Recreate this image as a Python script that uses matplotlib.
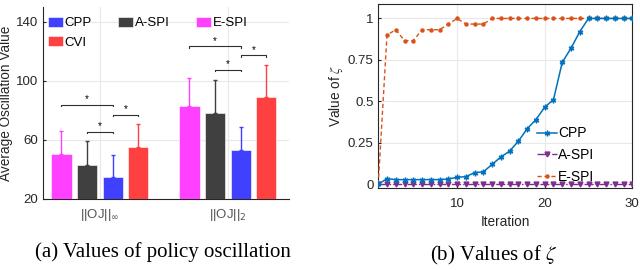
import matplotlib
matplotlib.use("Agg")
import matplotlib.pyplot as plt
import numpy as np

plt.rcParams["font.family"] = ["Liberation Sans", "DejaVu Sans"]
plt.rcParams["mathtext.fontset"] = "dejavusans"

# ---- panel (a): policy oscillation ----
groups = [r"||OJ||$_\infty$", r"||OJ||$_2$"]
methods = ["E-SPI", "A-SPI", "CPP", "CVI"]
colors = ["#ff40ff", "#404040", "#4040ff", "#ff4040"]
means = {
    "E-SPI": [50.7, 83.3],
    "A-SPI": [43.0, 78.5],
    "CPP": [34.9, 53.0],
    "CVI": [55.0, 89.1],
}
err = {
    "E-SPI": [15.1, 18.7],
    "A-SPI": [16.5, 22.4],
    "CPP": [14.9, 15.5],
    "CVI": [16.0, 21.5],
}
# (group, bar_from, bar_to, height)
brackets = [
    (0, 0, 2, 83.7), (0, 1, 2, 65.4), (0, 2, 3, 77.0),
    (1, 0, 2, 123.5), (1, 1, 2, 107.5), (1, 2, 3, 117.4),
]
legend_order = ["CPP", "CVI", "A-SPI", "E-SPI"]

# ---- panel (b): zeta ----
iters = np.arange(1, 31)
cpp = [0, 0.034, 0.028, 0.028, 0.028, 0.028, 0.028, 0.028, 0.032, 0.042,
       0.046, 0.07, 0.075, 0.12, 0.165, 0.2, 0.26, 0.335, 0.39, 0.465,
       0.51, 0.735, 0.82, 0.92, 1, 1, 1, 1, 1, 1]
aspi = [0] * 30
espi = [0, 0.9, 0.932, 0.866, 0.866, 0.932, 0.932, 0.932, 0.966, 1,
        0.966, 0.966, 0.966, 1, 1, 1, 1, 1, 1, 1,
        1, 1, 1, 1, 1, 1, 1, 1, 1, 1]

fig = plt.figure(figsize=(6.4, 2.7), dpi=100)
axc = "#262626"

ax1 = fig.add_axes([0.067, 0.263, 0.385, 0.711])
w = 0.158
step = 0.2
x = np.arange(1, len(groups) + 1)
handles = {}
for i, m in enumerate(methods):
    pos = x + (i - 1.5) * step
    b = ax1.bar(pos, means[m], width=w, color=colors[i], edgecolor="white",
                linewidth=0.4, label=m, zorder=3)
    handles[m] = b
    ax1.errorbar(pos, means[m], yerr=[np.zeros(2), err[m]], fmt="none",
                 ecolor=colors[i], elinewidth=1, capsize=1.5, capthick=1, zorder=4)
for g, i, j, h in brackets:
    x0 = x[g] + (i - 1.5) * step
    x1 = x[g] + (j - 1.5) * step
    ax1.plot([x0, x0, x1, x1], [h - 1, h, h, h - 1], color="#303030", lw=0.8, zorder=5)
    ax1.text((x0 + x1) / 2, h + 0.3, "*", ha="center", va="bottom", fontsize=7, color="black")

ax1.set_xlim(0.555, 2.48)
ax1.set_ylim(20, 150)
ax1.set_yticks([20, 60, 100, 140])
ax1.set_xticks(x)
ax1.set_xticklabels(groups, fontsize=9.5, color="#555555")
ax1.tick_params(axis="y", labelsize=9.5, colors=axc, direction="in", length=2)
ax1.tick_params(axis="x", length=0, pad=6)
ax1.set_ylabel("Average Oscillation Value", fontsize=9.8, color=axc, labelpad=2)
ax1.grid(True, color="#e8e8e8", lw=0.8, zorder=0)
ax1.set_axisbelow(True)
for s in ["top", "right"]:
    ax1.spines[s].set_visible(False)
for s in ["left", "bottom"]:
    ax1.spines[s].set_color(axc)
    ax1.spines[s].set_linewidth(0.8)
ax1.legend([handles[m] for m in legend_order], legend_order, ncol=3, frameon=False,
           loc="upper left", bbox_to_anchor=(-0.01, 0.99), fontsize=9.5,
           handlelength=1.1, handleheight=0.8, handletextpad=0.15,
           columnspacing=2.0, labelspacing=0.5, borderaxespad=0.2)
fig.text(0.255, 0.067, "(a) Values of policy oscillation", ha="center", va="center",
         fontsize=15, family="Liberation Serif")

ax2 = fig.add_axes([0.591, 0.304, 0.397, 0.683])
ax2.plot(iters, espi, color="#d95319", ls=(0, (3, 2)), lw=1, marker="o", ms=2.2,
         label="E-SPI", zorder=3)
ax2.plot(iters, aspi, color="#7e2f8e", ls="-.", lw=1, marker="v", ms=3.5,
         label="A-SPI", zorder=4)
ax2.plot(iters, cpp, color="#0072bd", ls="-", lw=1.1, marker=(6, 2, 0), ms=4,
         label="CPP", zorder=5)
ax2.set_xlim(1, 30)
ax2.set_ylim(-0.022, 1.09)
ax2.set_xticks([10, 20, 30])
ax2.set_yticks([0, 0.25, 0.5, 0.75, 1])
ax2.set_yticklabels(["0", "0.25", "0.5", "0.75", "1"])
ax2.tick_params(labelsize=9.5, colors=axc, direction="in", length=2)
ax2.tick_params(axis="x", pad=7)
ax2.set_xlabel("Iteration", fontsize=9.8, color=axc, labelpad=4)
ax2.set_ylabel(r"Value of $\zeta$", fontsize=9.8, color=axc, labelpad=2,
               math_fontfamily="stix")
ax2.grid(True, color="#e8e8e8", lw=0.8)
for s in ax2.spines.values():
    s.set_color(axc)
    s.set_linewidth(0.8)
h, l = ax2.get_legend_handles_labels()
ax2.legend(h[::-1], l[::-1], loc="lower right", frameon=False, fontsize=10,
           bbox_to_anchor=(0.9, -0.045), handlelength=1.4, handletextpad=0.1,
           labelspacing=0.55)
fig.text(0.772, 0.055, r"(b) Values of $\zeta$", ha="center", va="center",
         fontsize=15, family="Liberation Serif", math_fontfamily="stix")

fig.savefig("out.png", dpi=100)
